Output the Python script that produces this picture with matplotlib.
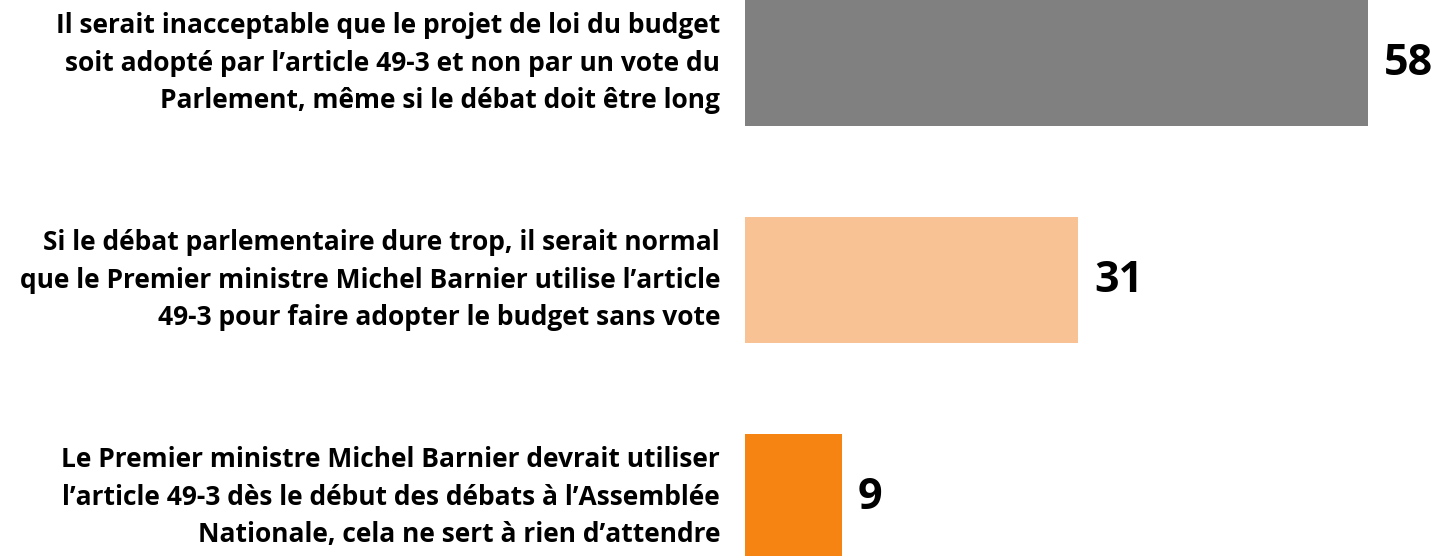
import matplotlib.pyplot as plt

labels = [
    "Il serait inacceptable que le projet de loi du budget\nsoit adopté par l’article 49-3 et non par un vote du\nParlement, même si le débat doit être long",
    "Si le débat parlementaire dure trop, il serait normal\nque le Premier ministre Michel Barnier utilise l’article\n49-3 pour faire adopter le budget sans vote",
    "Le Premier ministre Michel Barnier devrait utiliser\nl’article 49-3 dès le début des débats à l’Assemblée\nNationale, cela ne sert à rien d’attendre",
]
values = [58, 31, 9]
colors = ["#808080", "#F9C294", "#F58412"]

plt.rcParams['font.family'] = ['Open Sans', 'DejaVu Sans']

fig = plt.figure(figsize=(14.37, 5.56), dpi=100)
ax = fig.add_axes([745 / 1437, 0, 1 - 745 / 1437, 1])

pos = list(range(len(values)))
ax.barh(pos, values, height=0.585, color=colors)
ax.set_xlim(0, (1437 - 745) / 10.74)
ax.set_ylim((556 - 63) / 217, -63 / 217)
ax.axis('off')

# value labels to the right of the bars
for p, v in zip(pos, values):
    ax.annotate(str(v), (v, p), xytext=(16, 0), textcoords='offset pixels',
                ha='left', va='center', fontsize=31, fontweight='bold')

# category labels, right aligned left of the bars
for p, lab in zip(pos, labels):
    ax.annotate(lab, (0, p), xytext=(-25, 0), textcoords='offset pixels',
                ha='right', va='center', fontsize=19, fontweight='bold',
                linespacing=1.5)

fig.savefig('out.png', dpi=100)
